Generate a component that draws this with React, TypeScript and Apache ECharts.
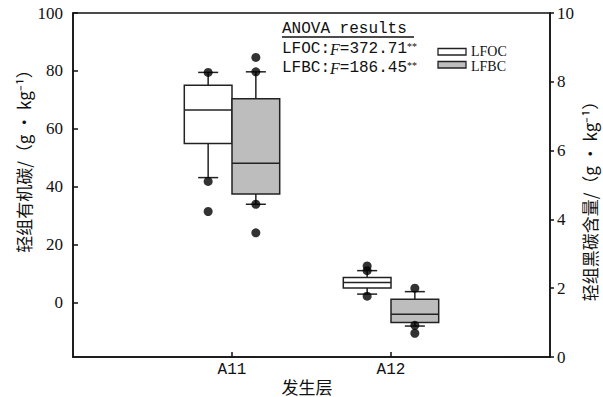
import React, { useEffect, useRef } from "react";
import * as echarts from "echarts";

const categories = ["A11", "A12"];
const categoryPositions = [1, 2];
// [x, whiskerLow, Q1, median, Q3, whiskerHigh]
const lfocBoxes = [
  [0.85, 43.2, 55.0, 66.5, 75.1, 79.5],
  [1.85, 3.0, 5.1, 7.0, 8.75, 11.1],
];
const lfbcBoxes = [
  [1.15, 4.44, 4.74, 5.63, 7.51, 8.29],
  [2.15, 0.9, 1.0, 1.24, 1.68, 1.9],
];
const lfocOutliers = [
  [0.85, 79.5], [0.85, 41.9], [0.85, 31.5],
  [1.85, 12.7], [1.85, 11.1], [1.85, 2.3],
];
const lfbcOutliers = [
  [1.15, 8.71], [1.15, 8.29], [1.15, 4.44], [1.15, 3.61],
  [2.15, 2.0], [2.15, 0.92], [2.15, 0.69],
];
const leftTicks = [0, 20, 40, 60, 80, 100];
const boxHalf = 0.15;

function makeRender(fill: string) {
  return (params: any, api: any) => {
    const x = api.value(0);
    const lo = api.value(1), q1 = api.value(2), md = api.value(3), q3 = api.value(4), hi = api.value(5);
    const pL = api.coord([x - boxHalf, q3]);
    const pR = api.coord([x + boxHalf, q1]);
    const pMd = api.coord([x, md]);
    const pLo = api.coord([x, lo]);
    const pHi = api.coord([x, hi]);
    const cx = (pL[0] + pR[0]) / 2;
    const w = pR[0] - pL[0];
    const cap = w * 0.21;
    const ls = { stroke: "#222", lineWidth: 1.5 };
    return {
      type: "group",
      children: [
        { type: "line", shape: { x1: cx, y1: pHi[1], x2: cx, y2: pL[1] }, style: ls },
        { type: "line", shape: { x1: cx, y1: pR[1], x2: cx, y2: pLo[1] }, style: ls },
        { type: "line", shape: { x1: cx - cap, y1: pHi[1], x2: cx + cap, y2: pHi[1] }, style: ls },
        { type: "line", shape: { x1: cx - cap, y1: pLo[1], x2: cx + cap, y2: pLo[1] }, style: ls },
        { type: "rect", shape: { x: pL[0], y: pL[1], width: w, height: pR[1] - pL[1] }, style: { fill, stroke: "#222", lineWidth: 1.5 } },
        { type: "line", shape: { x1: pL[0], y1: pMd[1], x2: pR[0], y2: pMd[1] }, style: ls },
      ],
    };
  };
}

const serif = "Liberation Serif";
const mono = "Liberation Mono";
const cjk = "Noto Sans CJK SC";

export default function App() {
  const ref = useRef<HTMLDivElement>(null);
  useEffect(() => {
    document.body.style.margin = "0";
    const chart = echarts.init(ref.current!, undefined, { renderer: "svg" });
    chart.setOption({
      animation: false,
      backgroundColor: "#fff",
      textStyle: { fontFamily: serif },
      grid: { left: 73, right: 53, top: 13, bottom: 40, show: true, borderColor: "#111", borderWidth: 1.5, backgroundColor: "transparent" },
      xAxis: {
        type: "value",
        min: 0,
        max: 3,
        splitLine: { show: false },
        axisLine: { show: true, onZero: false, lineStyle: { color: "#111", width: 1.5 } },
        axisTick: { show: true, inside: true, length: 5, customValues: categoryPositions, lineStyle: { color: "#111", width: 1.5 } },
        axisLabel: {
          customValues: categoryPositions,
          formatter: (v: number) => categories[Math.round(v) - 1] ?? "",
          color: "#111",
          fontFamily: mono,
          fontSize: 16,
          margin: 5,
        },
      },
      yAxis: [
        {
          type: "value",
          min: -18.7,
          max: 100,
          splitLine: { show: false },
          axisLine: { show: true, lineStyle: { color: "#111", width: 1.5 } },
          axisTick: { show: true, inside: true, length: 5, customValues: leftTicks, lineStyle: { color: "#111", width: 1.5 } },
          axisLabel: { customValues: leftTicks, color: "#111", fontFamily: serif, fontSize: 17, margin: 10 },
        },
        {
          type: "value",
          min: 0,
          max: 10,
          interval: 2,
          position: "right",
          splitLine: { show: false },
          axisLine: { show: true, lineStyle: { color: "#111", width: 1.5 } },
          axisTick: { show: true, inside: false, length: 4, lineStyle: { color: "#111", width: 1.5 } },
          axisLabel: { color: "#111", fontFamily: serif, fontSize: 17, margin: 7 },
        },
      ],
      series: [
        { type: "custom", name: "LFOC", yAxisIndex: 0, data: lfocBoxes, renderItem: makeRender("#ffffff"), z: 2 },
        { type: "custom", name: "LFBC", yAxisIndex: 1, data: lfbcBoxes, renderItem: makeRender("#bdbdbd"), z: 2 },
        { type: "scatter", yAxisIndex: 0, data: lfocOutliers, symbolSize: 9, itemStyle: { color: "#000" }, z: 3 },
        { type: "scatter", yAxisIndex: 1, data: lfbcOutliers, symbolSize: 9, itemStyle: { color: "#000" }, z: 3 },
      ],
      graphic: [
        { type: "text", x: 282, y: 29, style: { text: "ANOVA results", font: `16px ${mono}`, fill: "#111", verticalAlign: "middle" } },
        { type: "line", shape: { x1: 282, y1: 37, x2: 414, y2: 37 }, style: { stroke: "#111", lineWidth: 1.3 } },
        {
          type: "text", x: 282, y: 49,
          style: {
            text: "{a|LFOC:}{i|F}{a|=372.71}{s|**}",
            verticalAlign: "middle",
            rich: {
              a: { fontFamily: mono, fontSize: 16, fill: "#111" },
              i: { fontFamily: serif, fontStyle: "italic", fontSize: 16, fill: "#111" },
              s: { fontFamily: serif, fontSize: 10, fill: "#111", verticalAlign: "top", padding: [0, 0, 6, 0] },
            },
          },
        },
        {
          type: "text", x: 282, y: 68,
          style: {
            text: "{a|LFBC:}{i|F}{a|=186.45}{s|**}",
            verticalAlign: "middle",
            rich: {
              a: { fontFamily: mono, fontSize: 16, fill: "#111" },
              i: { fontFamily: serif, fontStyle: "italic", fontSize: 16, fill: "#111" },
              s: { fontFamily: serif, fontSize: 10, fill: "#111", verticalAlign: "top", padding: [0, 0, 6, 0] },
            },
          },
        },
        { type: "rect", shape: { x: 438, y: 48.5, width: 28, height: 6.5 }, style: { fill: "#fff", stroke: "#222", lineWidth: 1.3 } },
        { type: "rect", shape: { x: 438, y: 61.5, width: 28, height: 6.5 }, style: { fill: "#bdbdbd", stroke: "#222", lineWidth: 1.3 } },
        { type: "text", x: 471, y: 51, style: { text: "LFOC", fontFamily: serif, fontSize: 14, lineHeight: 12, fill: "#111", verticalAlign: "middle" } },
        { type: "text", x: 471, y: 66, style: { text: "LFBC", fontFamily: serif, fontSize: 14, lineHeight: 12, fill: "#111", verticalAlign: "middle" } },
        {
          type: "text", x: 23, y: 157, rotation: Math.PI / 2,
          style: { text: "轻组有机碳/（g · kg⁻¹）", font: `17px ${cjk}`, fill: "#111", align: "center", verticalAlign: "middle" },
        },
        {
          type: "text", x: 589, y: 197, rotation: Math.PI / 2,
          style: { text: "轻组黑碳含量/（g · kg⁻¹）", font: `17px ${cjk}`, fill: "#111", align: "center", verticalAlign: "middle" },
        },
        { type: "text", x: 307, y: 386, style: { text: "发生层", font: `17px ${cjk}`, fill: "#111", align: "center", verticalAlign: "middle" } },
      ],
    });
    return () => chart.dispose();
  }, []);
  return <div ref={ref} style={{ width: 603, height: 397 }} />;
}
